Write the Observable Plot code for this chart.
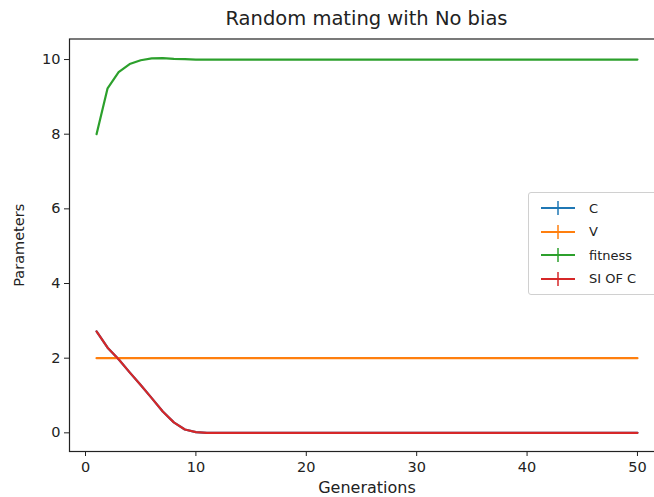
<!DOCTYPE html>
<html>
<head>
<meta charset="utf-8">
<script src="https://cdn.jsdelivr.net/npm/d3@7"></script>
<script src="https://cdn.jsdelivr.net/npm/@observablehq/plot@0.6"></script>
<style>
  html, body { margin: 0; padding: 0; background: #fff; }
  #wrap { position: relative; width: 654px; height: 497px; overflow: hidden; font-family: "DejaVu Sans", sans-serif; color: #222; }
  #chart svg { max-width: none !important; }
  #title { position: absolute; left: 0; width: 733px; top: 7px; text-align: center; font-size: 19.5px; }
  #legend { position: absolute; left: 528px; top: 192px; width: 134px; height: 101px; border: 1px solid #d0d0d0; border-radius: 3px; background: rgba(255,255,255,0.85); }
  .row { position: absolute; left: 0; height: 20px; display: flex; align-items: center; font-size: 13px; }
  .row svg { margin-left: 12px; margin-right: 14px; }
</style>
</head>
<body>
<div id="wrap">
  <div id="chart"></div>
  <div id="title">Random mating with No bias</div>
  <div id="legend"></div>
</div>
<script>
const seriesNames = ["C", "V", "fitness", "SI OF C"];
const seriesColors = ["#1f77b4", "#ff7f0e", "#2ca02c", "#d62728"];
const generations = [1,2,3,4,5,6,7,8,9,10,11,12,13,14,15,16,17,18,19,20,21,22,23,24,25,26,27,28,29,30,31,32,33,34,35,36,37,38,39,40,41,42,43,44,45,46,47,48,49,50];
const siOfC = [2.72,2.28,1.97,1.62,1.28,0.93,0.57,0.28,0.09,0.02,0.0,0,0,0,0,0,0,0,0,0,0,0,0,0,0,0,0,0,0,0,0,0,0,0,0,0,0,0,0,0,0,0,0,0,0,0,0,0,0,0];
const cValues = [2.72,2.28,1.97,1.62,1.28,0.93,0.57,0.28,0.09,0.02,0.0,0,0,0,0,0,0,0,0,0,0,0,0,0,0,0,0,0,0,0,0,0,0,0,0,0,0,0,0,0,0,0,0,0,0,0,0,0,0,0];
const vValues = [2,2,2,2,2,2,2,2,2,2,2,2,2,2,2,2,2,2,2,2,2,2,2,2,2,2,2,2,2,2,2,2,2,2,2,2,2,2,2,2,2,2,2,2,2,2,2,2,2,2];
const fitness = [8.0,9.23,9.66,9.88,9.98,10.03,10.04,10.02,10.01,10.0,10,10,10,10,10,10,10,10,10,10,10,10,10,10,10,10,10,10,10,10,10,10,10,10,10,10,10,10,10,10,10,10,10,10,10,10,10,10,10,10];
const xTicks = [0, 10, 20, 30, 40, 50];
const yTicks = [0, 2, 4, 6, 8, 10];

const valuesBySeries = [cValues, vValues, fitness, siOfC];
const rows = [];
seriesNames.forEach((name, i) => {
  generations.forEach((g, j) => rows.push({series: name, gen: g, value: valuesBySeries[i][j]}));
});

const chart = Plot.plot({
  width: 664,
  height: 497,
  marginLeft: 69,
  marginRight: 0,
  marginTop: 38.5,
  marginBottom: 46,
  style: {fontFamily: "DejaVu Sans, sans-serif", fontSize: "14.5px", color: "#222", background: "#fff", maxWidth: "none"},
  x: {domain: [-1.45, 52.45]},
  y: {domain: [-0.5, 10.55]},
  color: {domain: seriesNames, range: seriesColors},
  marks: [
    Plot.frame({stroke: "#222", strokeWidth: 1.2}),
    Plot.axisX({ticks: xTicks, tickSize: 5, tickPadding: 5, tickFormat: d => String(d), label: null, fontSize: 14.5}),
    Plot.axisX({ticks: [], label: "Generations", labelAnchor: "center", labelArrow: "none", labelOffset: 41, fontSize: 16}),
    Plot.axisY({ticks: yTicks, tickSize: 5, tickPadding: 4, tickFormat: d => String(d), label: null, fontSize: 14.5}),
    Plot.axisY({ticks: [], label: "Parameters", labelAnchor: "center", labelArrow: "none", labelOffset: 56, fontSize: 14.5}),
    Plot.line(rows, {x: "gen", y: "value", z: "series", stroke: "series", strokeWidth: 2.2})
  ]
});
document.getElementById("chart").appendChild(chart);

const legend = document.getElementById("legend");
seriesNames.forEach((name, i) => {
  const row = document.createElement("div");
  row.className = "row";
  row.style.top = (5 + i * 23.5) + "px";
  row.innerHTML = `<svg width="34" height="14"><line x1="0" x2="34" y1="7" y2="7" stroke="${seriesColors[i]}" stroke-width="2"/><line x1="17" x2="17" y1="0" y2="14" stroke="${seriesColors[i]}" stroke-width="1.5"/></svg><span>${name}</span>`;
  legend.appendChild(row);
});
</script>
</body>
</html>
